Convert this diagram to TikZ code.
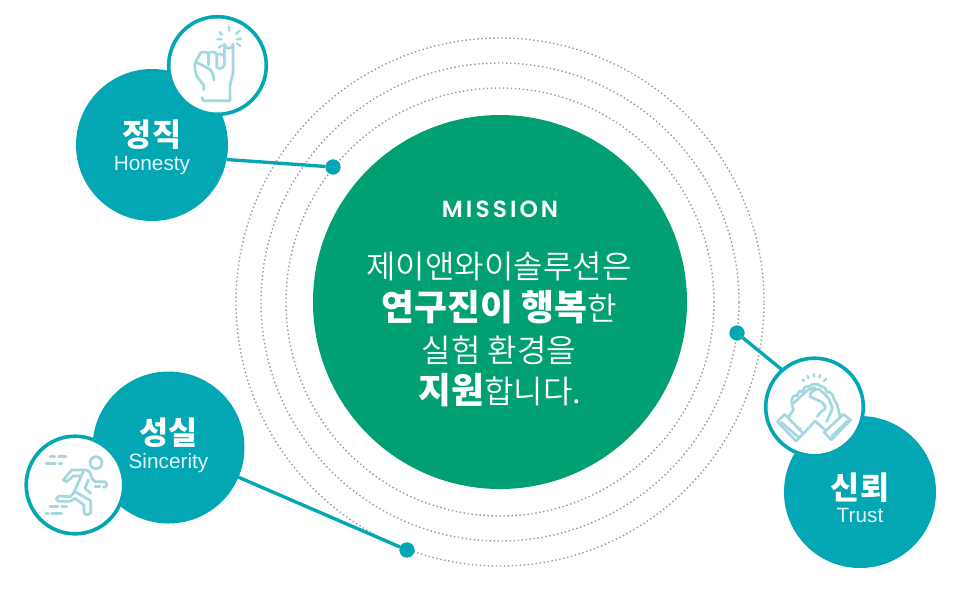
\documentclass[tikz,border=0pt]{standalone}
\usepackage{fontspec}
\setmainfont{Liberation Sans}
\newfontfamily\krfont{Noto Sans CJK KR}
\newfontfamily\krlight{Noto Sans CJK KR DemiLight}
\newfontfamily\missionfont[LetterSpace=13]{Poppins SemiBold}
\definecolor{tealc}{HTML}{03A6B3}
\definecolor{greenc}{HTML}{00A073}
\definecolor{iconc}{HTML}{A3D8DE}
\definecolor{ringc}{HTML}{999999}
\newcommand{\boldkr}[1]{{\krfont\bfseries\fontsize{26.8}{28}\selectfont #1}}
\tikzset{
 px/.style={x=.75pt,y=-.75pt},
 ring/.style={circle,draw=ringc,line width=1.05pt,dash pattern=on 1.05pt off 1.95pt,inner sep=0pt,outer sep=0pt},
 core/.style={circle,fill=greenc,inner sep=0pt,outer sep=0pt,minimum size=280.5pt},
 topic/.style={circle,fill=tealc,inner sep=0pt,outer sep=0pt,minimum size=114pt},
 badge/.style={circle,fill=white,draw=tealc,line width=2.7pt,inner sep=0pt,outer sep=0pt,minimum size=73.2pt},
 pin/.style={circle,fill=tealc,inner sep=0pt,outer sep=0pt,minimum size=11.5pt},
 link/.style={draw=tealc,line width=2.5pt},
 icon/.style={draw=iconc,line width=2pt,line cap=round,line join=round,x=.25pt,y=-.25pt},
 ttl/.style={text=white,anchor=base,inner sep=0pt,font=\krfont\bfseries\fontsize{23.7}{26}\selectfont},
 sub/.style={text=white!88!tealc,anchor=base,inner sep=0pt,font=\fontsize{15.6}{18}\selectfont},
 body/.style={text=white,anchor=base,inner sep=0pt,font=\krlight\fontsize{24}{28}\selectfont},
}
\begin{document}
\begin{tikzpicture}[px]
\useasboundingbox (0,0) rectangle (966,608);
\fill[white] (0,0) rectangle (966,608);
\node[ring,minimum size=396pt] (r3) at (500,302) {};
\node[ring,minimum size=358.5pt] (r2) at (500,302) {};
\node[ring,minimum size=321pt] (r1) at (500,302) {};
\node[core] (core) at (500,302) {};
\node[topic] (hon) at (152,145) {};
\node[topic] (sin) at (168.5,447.5) {};
\node[topic] (tru) at (860,492) {};
\node[pin] (pa) at (333,167) {};
\node[pin] (pb) at (737,333) {};
\node[pin] (pc) at (407,550) {};
\draw[link] (hon.-11) -- (pa);
\draw[link] (sin.-23) -- (pc);
\node[badge] (bhon) at (217.5,65.5) {};
\node[badge] (bsin) at (75,485) {};
\node[badge] (btru) at (814.5,407) {};
\draw[link] (btru.131) -- (pb);
% texts
\node[ttl] (t1) at (152,146) {정직};
\node[sub] (s1) at (152,170) {Honesty};
\node[ttl] (t2) at (168.5,444) {성실};
\node[sub] (s2) at (168.5,468) {Sincerity};
\node[ttl] (t3) at (860,499) {신뢰};
\node[sub] (s3) at (860,522) {Trust};
\node[text=white,anchor=base,inner sep=0pt,font=\missionfont\fontsize{17.5}{20}\selectfont] (m) at (500,217) {MISSION};
\node[body] (l1) at (499,278) {제이앤와이솔루션은};
\node[body] (l2) at (499,320.5) {\boldkr{연구진이 행복}한};
\node[body] (l3) at (499,362) {실험 환경을};
\node[body] (l4) at (500,403) {\boldkr{지원}합니다.};
% hand icon
\begin{scope}[shift={(160,10)},icon]
 \draw (193,142) -- (193,102) arc (180:0:13) -- (219,190) -- (210,225) -- (210,272) -- (130,272) -- (126,262);
 \draw (131,240) -- (131,226) -- (110,198) -- (104,175) .. controls (104,150) and (115,145) .. (122,128) .. controls (128,124) and (142,126) .. (146,132);
 \draw (146,132) -- (146,165) ;
 \draw (146,130) .. controls (152,124) and (164,124) .. (170,132) -- (170,170);
 \draw (170,135) .. controls (175,130) and (190,130) .. (193,142) -- (193,165) .. controls (190,178) and (172,178) .. (170,170);
 \draw (112,158) -- (150,178) .. controls (160,190) and (162,200) .. (162,210);
 \draw[line width=1.7pt] (172,88)--(184,88) (178,66)--(186,74) (206,50)--(208,62) (238,62)--(229,72) (243,86)--(231,88) (241,108)--(230,100) (177,113)--(186,106);
\end{scope}
% runner icon
\begin{scope}[shift={(20,430)},icon]
 \draw (228,98) circle (18);
 \draw (130,150) -- (155,120) -- (198,120) .. controls (212,122) and (212,135) .. (216,145) -- (225,155) -- (255,155) .. controls (265,165) and (258,172) .. (250,172);
 \draw (130,150) -- (140,155) -- (160,138) -- (180,138);
 \draw (190,125) .. controls (180,145) and (170,170) .. (160,190) -- (150,200) -- (118,198) .. controls (105,205) and (108,212) .. (118,214) -- (150,214) -- (165,205);
 \draw (165,185) -- (212,212) -- (212,248) .. controls (205,258) and (192,255) .. (192,245) -- (192,225) -- (165,205);
 \draw (205,150) -- (195,175) -- (212,190);
 \draw (225,170) -- (240,170);
 \draw (90,80)--(104,80) (116,80)--(138,80) (78,100)--(106,100) (118,100)--(125,100) (90,230)--(114,230) (125,230)--(140,230) (78,250)--(85,250) (95,250)--(125,250);
\end{scope}
% hands icon
\begin{scope}[shift={(760,355)},icon]
 \draw (52,200) -- (74,178) -- (130,236) -- (108,258) -- cycle;
 \draw (64,202) -- (116,247);
 \draw (272,195) -- (250,178) -- (192,232) -- (214,254) -- cycle;
 \draw (262,198) -- (216,243);
 \draw (84,188) -- (100,165) -- (96,148) .. controls (92,125) and (104,118) .. (112,122) .. controls (112,108) and (124,106) .. (130,110) .. controls (130,96) and (140,92) .. (148,94) .. controls (158,84) and (175,86) .. (182,94) .. controls (195,95) and (198,102) .. (200,110) .. controls (212,110) and (220,120) .. (220,128) -- (232,150) -- (240,185);
 \draw (100,145) -- (118,128) -- (145,104) -- (165,98);
 \draw[rounded corners=1.2pt] (150,125) -- (152,112) -- (175,100) -- (205,128) -- (218,160) -- (200,200);
 \draw[rounded corners=1.2pt] (150,125) -- (188,142) -- (198,160) -- (180,172) -- (172,185);
 \draw (130,236) -- (165,198) -- (192,222);
 \draw (120,220) -- (122,222);
 \draw[line width=1.7pt] (127,73)--(132,78) (142,62)--(145,70) (162,57)--(162,65) (181,60)--(178,68) (198,72)--(192,78);
\end{scope}
\end{tikzpicture}
\end{document}
